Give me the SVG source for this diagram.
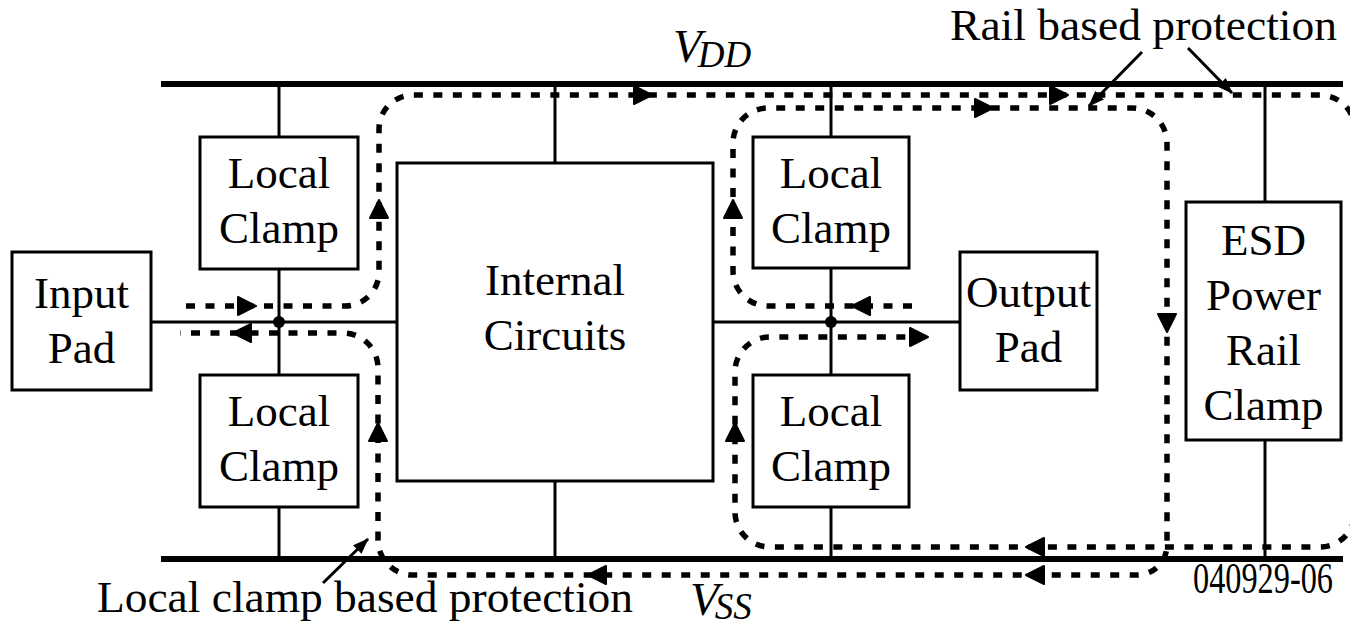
<svg xmlns="http://www.w3.org/2000/svg" xmlns:xlink="http://www.w3.org/1999/xlink" width="1350" height="627" viewBox="0 0 1350 627">
<style>
.box{fill:#fff;stroke:#000;stroke-width:3}
.wire{fill:none;stroke:#000;stroke-width:3}
.rail{fill:none;stroke:#000;stroke-width:6}
.dash{fill:none;stroke:#000;stroke-width:5.5;stroke-dasharray:9 10.5}
.lbl{font-family:"Liberation Serif","Times New Roman",serif;font-size:45px;fill:#000;text-anchor:middle}
.txt{font-family:"Liberation Serif","Times New Roman",serif;font-size:45px;fill:#000}
.it{font-family:"Liberation Serif","Times New Roman",serif;font-style:italic;fill:#000}
.ptr{fill:none;stroke:#000;stroke-width:3;marker-end:url(#pt)}
</style>
<defs>
<path id="ah" d="M0,0 L-18,-9 L-18,9 Z" fill="#000" stroke="#000" stroke-width="2" stroke-linejoin="round"/>
<marker id="pt" viewBox="0 0 16 12" refX="15" refY="6" markerWidth="16" markerHeight="12" markerUnits="userSpaceOnUse" orient="auto">
<path d="M0,0 L16,6 L0,12 Z" fill="#000"/>
</marker>
</defs>
<rect width="1350" height="627" fill="#fff"/>

<g id="rails">
<line class="rail" x1="161" y1="84" x2="1343" y2="84"/>
<line class="rail" x1="161" y1="559" x2="1343" y2="559"/>
<text class="it" x="673" y="62" font-size="47">V<tspan font-size="37" dy="5" dx="-4">DD</tspan></text>
<text class="it" x="690" y="615" font-size="47">V<tspan font-size="37" dy="4" dx="-4">SS</tspan></text>
</g>

<g id="wires">
<line class="wire" x1="151" y1="322" x2="397" y2="322"/>
<line class="wire" x1="713" y1="322" x2="960" y2="322"/>
<line class="wire" x1="279" y1="84" x2="279" y2="137"/>
<line class="wire" x1="279" y1="269" x2="279" y2="375"/>
<line class="wire" x1="279" y1="507" x2="279" y2="559"/>
<line class="wire" x1="555" y1="84" x2="555" y2="163"/>
<line class="wire" x1="555" y1="481" x2="555" y2="559"/>
<line class="wire" x1="831" y1="84" x2="831" y2="137"/>
<line class="wire" x1="831" y1="268" x2="831" y2="375"/>
<line class="wire" x1="831" y1="507" x2="831" y2="559"/>
<line class="wire" x1="1265" y1="84" x2="1265" y2="202"/>
<line class="wire" x1="1265" y1="440" x2="1265" y2="559"/>
<circle cx="279" cy="322" r="6" fill="#000"/>
<circle cx="831" cy="322" r="6" fill="#000"/>
</g>

<g id="input-pad">
<rect class="box" x="12" y="252" width="139" height="138"/>
<text class="lbl" x="81.5" y="308">Input</text>
<text class="lbl" x="81.5" y="363">Pad</text>
</g>
<g id="local-clamp-1">
<rect class="box" x="200" y="137" width="158" height="132"/>
<text class="lbl" x="279" y="188">Local</text>
<text class="lbl" x="279" y="243">Clamp</text>
</g>
<g id="local-clamp-2">
<rect class="box" x="200" y="375" width="158" height="132"/>
<text class="lbl" x="279" y="426">Local</text>
<text class="lbl" x="279" y="481">Clamp</text>
</g>
<g id="internal-circuits">
<rect class="box" x="397" y="163" width="316" height="318"/>
<text class="lbl" x="555" y="295">Internal</text>
<text class="lbl" x="555" y="350">Circuits</text>
</g>
<g id="local-clamp-3">
<rect class="box" x="753" y="137" width="156" height="131"/>
<text class="lbl" x="831" y="188">Local</text>
<text class="lbl" x="831" y="243">Clamp</text>
</g>
<g id="local-clamp-4">
<rect class="box" x="753" y="375" width="156" height="132"/>
<text class="lbl" x="831" y="426">Local</text>
<text class="lbl" x="831" y="481">Clamp</text>
</g>
<g id="output-pad">
<rect class="box" x="960" y="252" width="137" height="138"/>
<text class="lbl" x="1028.5" y="307">Output</text>
<text class="lbl" x="1028.5" y="362">Pad</text>
</g>
<g id="esd-clamp">
<rect class="box" x="1186" y="202" width="155" height="238"/>
<text class="lbl" x="1263.5" y="255">ESD</text>
<text class="lbl" x="1263.5" y="310">Power</text>
<text class="lbl" x="1263.5" y="365">Rail</text>
<text class="lbl" x="1263.5" y="420">Clamp</text>
</g>

<g id="connectors">
<path class="dash" d="M186,306 H345 A34,34 0 0 0 379,272 V129 A34,34 0 0 1 413,95 H1320 A35,35 0 0 1 1355,130 V200"/>
<path class="dash" d="M912,306 H768 A35,35 0 0 1 733,271 V143 A35,35 0 0 1 768,108 H1132 A35,35 0 0 1 1167,143 V545 A30,30 0 0 1 1137,575 H413 A35,35 0 0 1 378,540 V368 A35,35 0 0 0 343,333 H180"/>
<path class="dash" d="M1355,440 V512 A35,35 0 0 1 1320,547 H770 A35,35 0 0 1 735,512 V372 A35,35 0 0 1 770,337 H912"/>
<use xlink:href="#ah" transform="translate(256,306)"/>
<use xlink:href="#ah" transform="translate(379,200) rotate(-90)"/>
<use xlink:href="#ah" transform="translate(652,95)"/>
<use xlink:href="#ah" transform="translate(1068,95)"/>
<use xlink:href="#ah" transform="translate(852,306) rotate(180)"/>
<use xlink:href="#ah" transform="translate(733,200) rotate(-90)"/>
<use xlink:href="#ah" transform="translate(993,108)"/>
<use xlink:href="#ah" transform="translate(1167,332) rotate(90)"/>
<use xlink:href="#ah" transform="translate(1026,575) rotate(180)"/>
<use xlink:href="#ah" transform="translate(588,575) rotate(180)"/>
<use xlink:href="#ah" transform="translate(378,423) rotate(-90)"/>
<use xlink:href="#ah" transform="translate(233,333) rotate(180)"/>
<use xlink:href="#ah" transform="translate(1026,547) rotate(180)"/>
<use xlink:href="#ah" transform="translate(735,423) rotate(-90)"/>
<use xlink:href="#ah" transform="translate(928,337)"/>
<line class="ptr" x1="1142" y1="52" x2="1089" y2="106"/>
<line class="ptr" x1="1188" y1="48" x2="1232" y2="93"/>
<line class="ptr" x1="323" y1="583" x2="368" y2="539"/>
</g>

<g id="labels">
<text class="txt" x="950" y="40" textLength="387" lengthAdjust="spacingAndGlyphs">Rail based protection</text>
<text class="txt" x="97" y="612" textLength="536" lengthAdjust="spacingAndGlyphs">Local clamp based protection</text>
<text class="txt" x="1193" y="593" font-size="32" textLength="140" lengthAdjust="spacingAndGlyphs">040929-06</text>
</g>
</svg>
